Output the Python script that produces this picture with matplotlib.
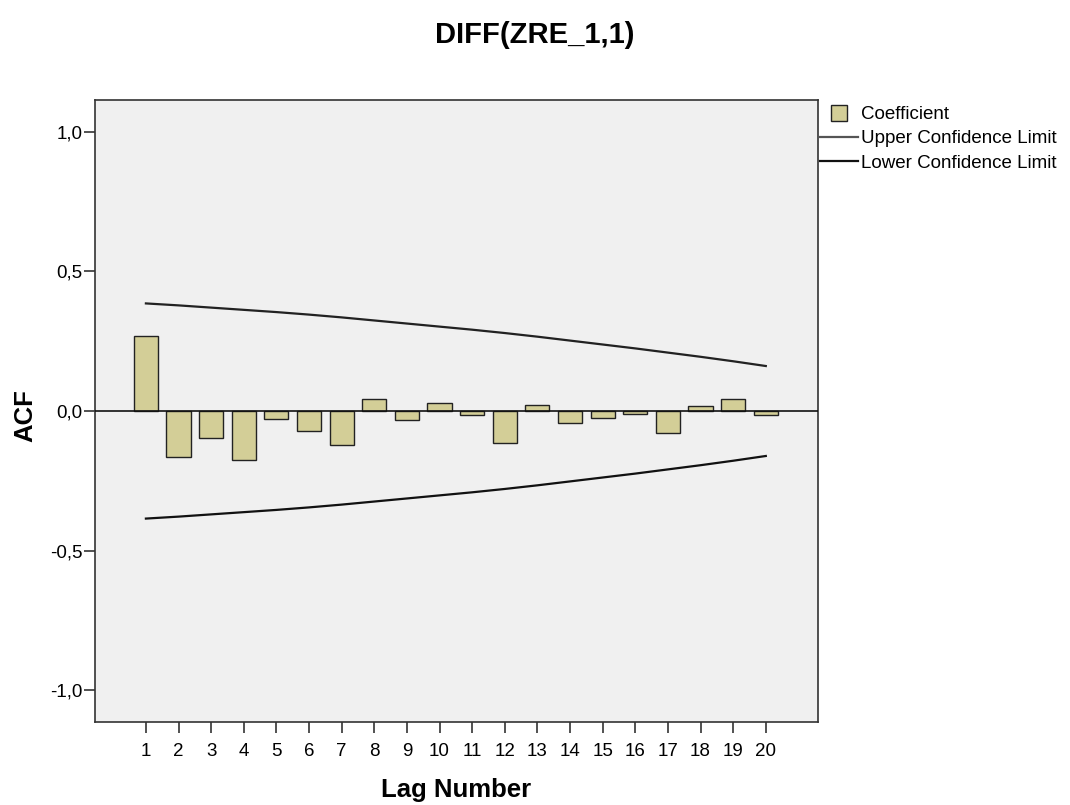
import matplotlib
matplotlib.use("Agg")
import matplotlib.pyplot as plt
from matplotlib.lines import Line2D

plt.rcParams['font.family'] = ['Liberation Sans', 'DejaVu Sans']

# dados
lags = list(range(1, 21))
acf = [0.270, -0.164, -0.098, -0.176, -0.028, -0.071, -0.123, 0.043, -0.033, 0.028,
       -0.014, -0.116, 0.020, -0.043, -0.026, -0.011, -0.078, 0.017, 0.044, -0.013]
upper = [0.385, 0.378, 0.370, 0.362, 0.354, 0.345, 0.335, 0.324, 0.313, 0.302,
         0.291, 0.279, 0.266, 0.252, 0.238, 0.224, 0.209, 0.194, 0.178, 0.161]
lower = [-u for u in upper]
yticks = [-1.0, -0.5, 0.0, 0.5, 1.0]
ytick_labels = ['-1,0', '-0,5', '0,0', '0,5', '1,0']

W, H = 1070, 805
fig = plt.figure(figsize=(W / 100, H / 100), dpi=100)
ax = fig.add_axes([95 / W, 1 - 722 / H, (818 - 95) / W, (722 - 100) / H])
ax.set_facecolor('#F0F0F0')

ax.bar(lags, acf, width=0.74, color='#D3CE97', edgecolor='#222222', linewidth=1.0, zorder=3)
ax.axhline(0, color='#111111', linewidth=1.2, zorder=4)
ax.plot(lags, upper, color='#222222', linewidth=1.6, zorder=4)
ax.plot(lags, lower, color='#111111', linewidth=1.6, zorder=4)

ax.set_xlim(-0.56, 21.6)
ax.set_ylim(-1.113, 1.113)
ax.set_xticks(lags)
ax.set_xticklabels([str(l) for l in lags], fontsize=13.5)
ax.set_yticks(yticks)
ax.set_yticklabels(ytick_labels, fontsize=13.5)
ax.tick_params(axis='x', length=8, width=1.2, color='#333333', pad=7)
ax.tick_params(axis='y', length=8, width=1.2, color='#333333', pad=1)
for s in ax.spines.values():
    s.set_color('#333333')
    s.set_linewidth(1.2)

fig.text(456 / W, 1 - 797 / H, 'Lag Number', ha='center', va='baseline',
         fontsize=18.5, fontweight='bold')
fig.text(25 / W, 1 - 416 / H, 'ACF', ha='center', va='center', rotation=90,
         fontsize=18.5, fontweight='bold')
fig.text(535 / W, 1 - 43 / H, 'DIFF(ZRE_1,1)', ha='center', va='baseline',
         fontsize=21, fontweight='bold')

handles = [Line2D([], [], linestyle='none', marker='s', markersize=11,
                  markerfacecolor='#D3CE97', markeredgecolor='#222222', markeredgewidth=1.0),
           Line2D([], [], color='#555555', linewidth=1.6),
           Line2D([], [], color='#111111', linewidth=1.6)]
fig.legend(handles, ['Coefficient', 'Upper Confidence Limit', 'Lower Confidence Limit'],
           loc='upper left', bbox_to_anchor=(820 / W, 1 - 106 / H), frameon=False,
           fontsize=13.5, handlelength=2.0, handletextpad=0.2, labelspacing=0.38,
           borderaxespad=0, borderpad=0)

fig.savefig('out.png', dpi=100)
